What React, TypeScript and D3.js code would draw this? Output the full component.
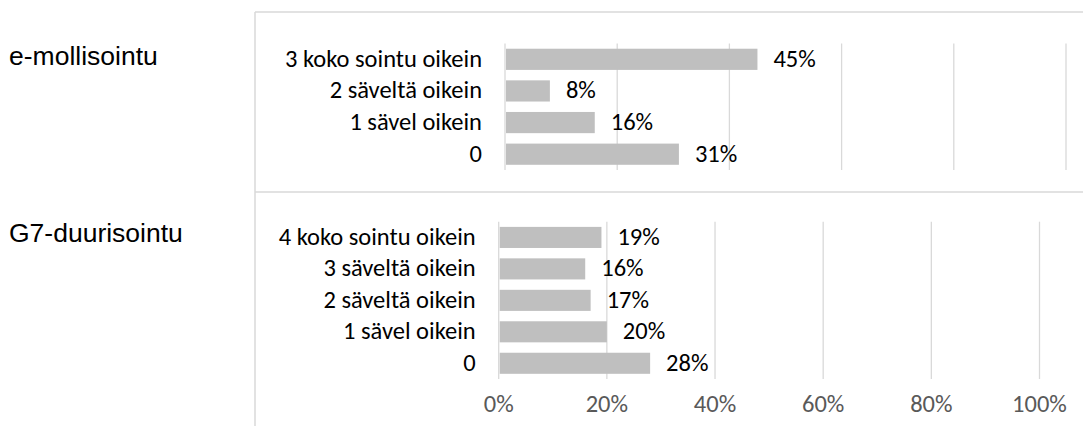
import React from "react";
import * as d3 from "d3";

const emCategories = ["3 koko sointu oikein", "2 säveltä oikein", "1 sävel oikein", "0"];
const emValues = [0.45, 0.08, 0.16, 0.31];

const g7Categories = [
  "4 koko sointu oikein",
  "3 säveltä oikein",
  "2 säveltä oikein",
  "1 sävel oikein",
  "0",
];
const g7Values = [0.19, 0.16, 0.17, 0.2, 0.28];

const tickValues = [0, 0.2, 0.4, 0.6, 0.8, 1];

const W = 1083;
const H = 426;
const labelFont = "Carlito, Lato, 'Open Sans', sans-serif";
const labelSize = 24.5;
const titleFont = "'Liberation Sans', Arial, sans-serif";
const gridColor = "#d9d9d9";
const barColor = "#bfbfbf";

type PanelProps = {
  title: string;
  titleY: number;
  categories: string[];
  values: number[];
  xRange: [number, number];
  yRange: [number, number];
  showTicks?: boolean;
};

const Panel = ({ title, titleY, categories, values, xRange, yRange, showTicks }: PanelProps) => {
  const x = d3.scaleLinear().domain([0, 1]).range(xRange);
  const y = d3
    .scaleBand()
    .domain(categories)
    .range(yRange)
    .paddingInner(0.33)
    .paddingOuter(0.165);
  const fmt = d3.format(".0%");

  return (
    <g>
      <text x={9} y={titleY} fontFamily={titleFont} fontSize={26.5} fill="#000">
        {title}
      </text>

      {/* grid */}
      {tickValues.map((t) => (
        <line
          key={t}
          x1={x(t)}
          x2={x(t)}
          y1={yRange[0]}
          y2={yRange[1]}
          stroke={gridColor}
          strokeWidth={1.3}
        />
      ))}

      {/* bars */}
      {categories.map((c, i) => (
        <rect
          key={c}
          x={x(0) + 1}
          y={y(c)}
          width={x(values[i]) - x(0) - 1}
          height={y.bandwidth()}
          fill={barColor}
        />
      ))}

      {/* category labels */}
      {categories.map((c) => (
        <text
          key={c}
          x={x(0) - 23}
          y={(y(c) ?? 0) + y.bandwidth() / 2 + 7.5}
          textAnchor="end"
          fontFamily={labelFont}
          fontSize={labelSize}
          fill="#000"
        >
          {c}
        </text>
      ))}

      {/* value labels */}
      {categories.map((c, i) => (
        <text
          key={c}
          x={x(values[i]) + 16}
          y={(y(c) ?? 0) + y.bandwidth() / 2 + 7.5}
          fontFamily={labelFont}
          fontSize={labelSize}
          fill="#000"
        >
          {fmt(values[i])}
        </text>
      ))}

      {showTicks &&
        tickValues.map((t) => (
          <text
            key={t}
            x={x(t)}
            y={412}
            textAnchor="middle"
            fontFamily={labelFont}
            fontSize={labelSize}
            fill="#595959"
          >
            {fmt(t)}
          </text>
        ))}
    </g>
  );
};

export default function App() {
  return (
    <svg
      width={W}
      height={H}
      style={{ position: "absolute", left: 0, top: 0, background: "#fff" }}
    >
      <rect width={W} height={H} fill="#fff" />
      {/* frame */}
      <line x1={255} x2={W} y1={12} y2={12} stroke={gridColor} strokeWidth={1.5} />
      <line x1={255} x2={W} y1={192} y2={192} stroke={gridColor} strokeWidth={1.5} />
      <line x1={255} x2={255} y1={12} y2={H} stroke={gridColor} strokeWidth={1.5} />

      <Panel
        title="e-mollisointu"
        titleY={65}
        categories={emCategories}
        values={emValues}
        xRange={[505, 1066]}
        yRange={[43.5, 170]}
      />
      <Panel
        title="G7-duurisointu"
        titleY={242}
        categories={g7Categories}
        values={g7Values}
        xRange={[498.7, 1039.5]}
        yRange={[221.7, 379]}
        showTicks
      />
    </svg>
  );
}
